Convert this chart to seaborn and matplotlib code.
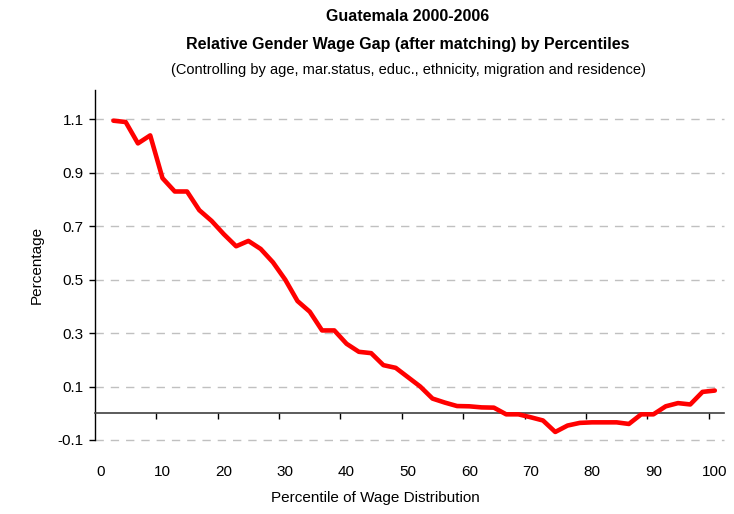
import pandas as pd
import matplotlib.pyplot as plt
import seaborn as sns

# percentile points and relative wage gap
percentiles = list(range(2, 101, 2))
wage_gap = [1.095, 1.09, 1.01, 1.04, 0.88, 0.83, 0.83, 0.76, 0.72, 0.67,
            0.625, 0.645, 0.615, 0.565, 0.50, 0.42, 0.38, 0.31, 0.31, 0.26,
            0.23, 0.225, 0.18, 0.17, 0.135, 0.10, 0.055, 0.04, 0.027, 0.026,
            0.022, 0.021, -0.004, -0.004, -0.015, -0.027, -0.07, -0.046, -0.036, -0.034,
            -0.034, -0.034, -0.04, -0.004, -0.004, 0.026, 0.038, 0.033, 0.08, 0.085]
y_ticks = [-0.1, 0.1, 0.3, 0.5, 0.7, 0.9, 1.1]
x_labels = list(range(0, 101, 10))
x_marks = [9, 19, 29, 39, 49, 59, 69, 79, 89, 99]

df = pd.DataFrame({'percentile': percentiles, 'gap': wage_gap})

sns.set_style('white')
plt.rcParams['font.family'] = ['Liberation Sans', 'DejaVu Sans']
plt.rcParams['text.color'] = 'black'
plt.rcParams['axes.labelcolor'] = 'black'
plt.rcParams['xtick.color'] = 'black'
plt.rcParams['ytick.color'] = 'black'

fig = plt.figure(figsize=(7.34, 5.14), dpi=100)
ax = fig.add_axes([0.1294, 0.144, 0.857, 0.681])

for yv in y_ticks:
    ax.axhline(yv, color='#c0c0c0', lw=1, ls=(0, (6, 5)), zorder=0, clip_on=False)

sns.lineplot(data=df, x='percentile', y='gap', color='#ff0000', lw=3.3, ax=ax, zorder=3)

ax.set_xlim(-1, 101.5)
ax.set_ylim(-0.1, 1.21)
ax.set_yticks(y_ticks)
ax.set_yticklabels([f'{v:.1f}' for v in y_ticks], fontsize=11)
ax.tick_params(axis='y', direction='out', length=4, width=1, color='black', left=True, pad=4)

for s in ['top', 'right']:
    ax.spines[s].set_visible(False)
ax.spines['left'].set_color('black')
ax.spines['left'].set_linewidth(1)
ax.spines['bottom'].set_position(('data', 0))
ax.spines['bottom'].set_color('#404040')
ax.spines['bottom'].set_linewidth(1.2)
ax.set_xticks(x_marks)
ax.set_xticklabels([])
ax.tick_params(axis='x', direction='out', length=4, width=1, color='black', bottom=True)

sec = ax.secondary_xaxis(0.0)
sec.set_xticks(x_labels)
sec.set_xticklabels([str(v) for v in x_labels], fontsize=11)
sec.tick_params(length=0, pad=18)
sec.spines['bottom'].set_visible(False)

ax.set_xlabel('')
ax.set_ylabel('Percentage', fontsize=11, labelpad=10)

fig.text(0.556, 0.967, 'Guatemala 2000-2006', ha='center', va='center',
         fontsize=11.5, fontweight='bold')
fig.text(0.556, 0.914, 'Relative Gender Wage Gap (after matching) by Percentiles',
         ha='center', va='center', fontsize=11.5, fontweight='bold')
fig.text(0.556, 0.864, '(Controlling by age, mar.status, educ., ethnicity, migration and residence)',
         ha='center', va='center', fontsize=10.5)
fig.text(0.511, 0.031, 'Percentile of Wage Distribution', ha='center', va='center', fontsize=11)

plt.savefig('out.png', dpi=100)
plt.close()
